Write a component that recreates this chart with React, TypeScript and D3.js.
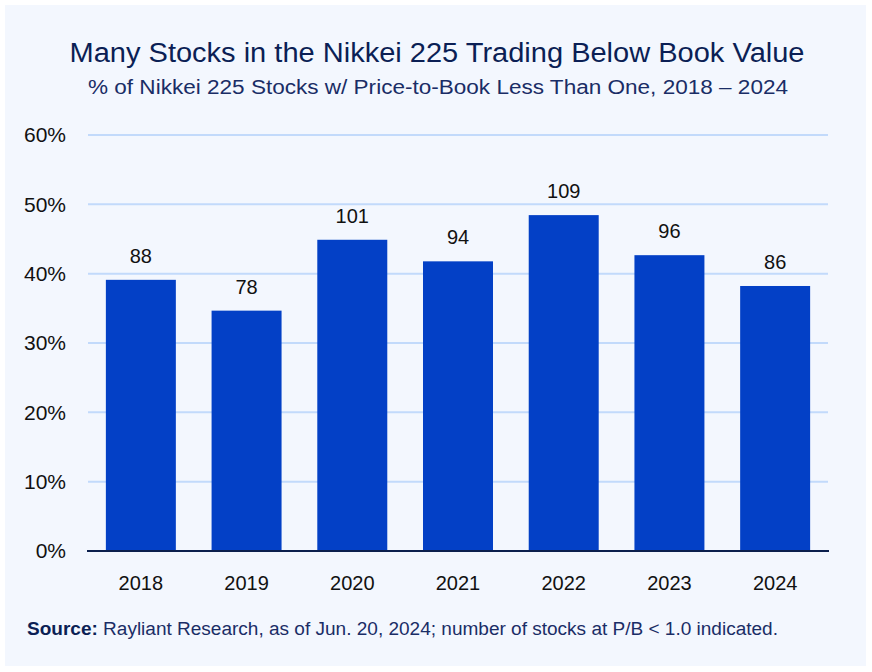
import React from "react";
import * as d3 from "d3";

const years = ["2018", "2019", "2020", "2021", "2022", "2023", "2024"];
const counts = [88, 78, 101, 94, 109, 96, 86];
const total = 225;
const yTicks = [0, 10, 20, 30, 40, 50, 60];

const W = 872;
const H = 672;

export default function App() {
  const x = d3
    .scaleBand<string>()
    .domain(years)
    .range([88, 828])
    .paddingInner(0.338)
    .paddingOuter(0.169);
  const y = d3.scaleLinear().domain([0, 60]).range([551, 135]);
  const pct = counts.map((c) => (c / total) * 100);
  const font = "'Liberation Sans', Arial, sans-serif";
  return (
    <svg
      width={W}
      height={H}
      style={{ position: "absolute", left: 0, top: 0, fontFamily: font }}
    >
      <rect x={0} y={0} width={W} height={H} fill="#ffffff" />
      <rect x={5} y={5} width={861} height={661} fill="#f3f7fe" />
      <text
        x={437}
        y={62}
        textAnchor="middle"
        fontSize={27}
        fill="#0b1f55"
        textLength={735}
        lengthAdjust="spacingAndGlyphs"
      >
        Many Stocks in the Nikkei 225 Trading Below Book Value
      </text>
      <text
        x={438}
        y={94}
        textAnchor="middle"
        fontSize={20}
        fill="#1a2d66"
        textLength={700}
        lengthAdjust="spacingAndGlyphs"
      >
        % of Nikkei 225 Stocks w/ Price-to-Book Less Than One, 2018 – 2024
      </text>
      {yTicks.map((t) => (
        <g key={t}>
          {t > 0 && (
            <line
              x1={88}
              x2={828}
              y1={y(t)}
              y2={y(t)}
              stroke="#c2dafb"
              strokeWidth={2}
            />
          )}
          <text
            x={66}
            y={y(t)}
            dy="0.35em"
            textAnchor="end"
            fontSize={21}
            fill="#111"
          >
            {t}%
          </text>
        </g>
      ))}
      {years.map((yr, i) => (
        <g key={yr}>
          <rect
            x={x(yr)}
            y={y(pct[i])}
            width={x.bandwidth()}
            height={y(0) - y(pct[i])}
            fill="#0340c6"
          />
          <text
            x={(x(yr) as number) + x.bandwidth() / 2}
            y={y(pct[i]) - 17}
            textAnchor="middle"
            fontSize={20}
            fill="#111"
          >
            {counts[i]}
          </text>
          <text
            x={(x(yr) as number) + x.bandwidth() / 2}
            y={590}
            textAnchor="middle"
            fontSize={20}
            fill="#111"
          >
            {yr}
          </text>
        </g>
      ))}
      <line x1={87} x2={829} y1={551} y2={551} stroke="#0b1f4d" strokeWidth={2} />
      <text
        x={27}
        y={635}
        fontSize={18}
        fill="#1a2d66"
        textLength={751}
        lengthAdjust="spacingAndGlyphs"
      >
        <tspan fontWeight="bold" fill="#0b1f55">Source:</tspan> Rayliant Research, as of Jun. 20, 2024; number of stocks at P/B &lt; 1.0 indicated.
      </text>
    </svg>
  );
}
